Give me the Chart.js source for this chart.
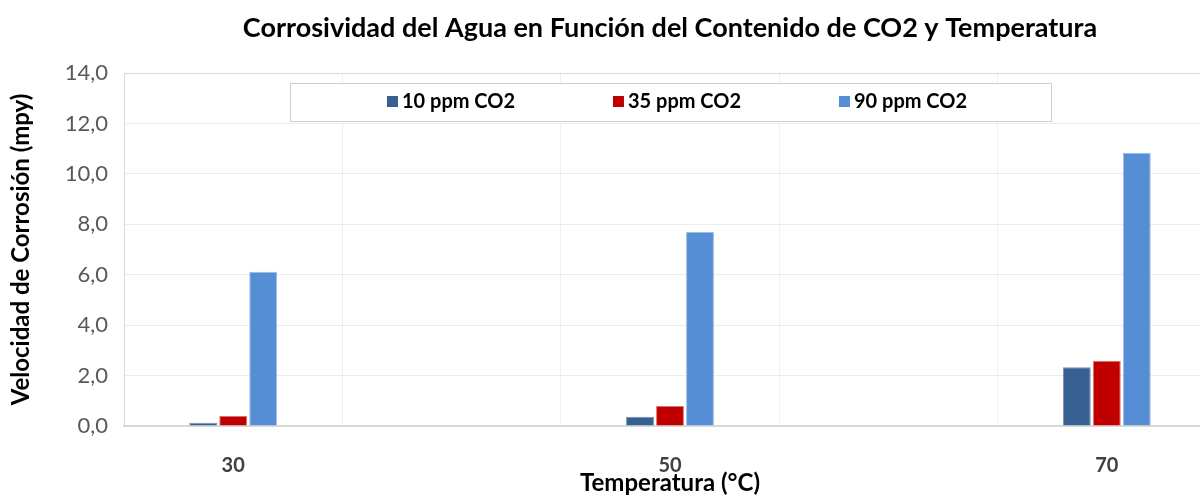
<!DOCTYPE html>
<html>
<head>
<meta charset="utf-8">
<script src="https://cdn.jsdelivr.net/npm/chart.js@4.4.1/dist/chart.umd.min.js"></script>
<style>
  html, body { margin: 0; padding: 0; background: #fff; overflow: hidden; }
  #wrap { width: 1200px; height: 497px; overflow: hidden; }
</style>
</head>
<body>
<div id="wrap"><canvas id="corrChart" width="1220" height="497"></canvas></div>
<script>
// temperatures on the x axis (40 and 60 have no data, labels hidden)
const temperatures = ['30', '40', '50', '60', '70'];
const seriesNames = ['10 ppm CO2', '35 ppm CO2', '90 ppm CO2'];
const ppm10 = [0.13, null, 0.37, null, 2.33];
const ppm35 = [0.40, null, 0.79, null, 2.59];
const ppm90 = [6.12, null, 7.70, null, 10.84];

const chartTitle = 'Corrosividad del Agua en Función del Contenido de CO2 y Temperatura';
const yTitle = 'Velocidad de Corrosión (mpy)';
const xTitle = 'Temperatura (°C)';

const FILL   = ['#366092', '#C00000', '#558ED5'];
const BORDER = ['#7590b5', '#e07070', '#9dbde6'];
const FONT = 'Lato';

// title, legend box and plot-area frame, Excel style
const excelFrame = {
  id: 'excelFrame',
  afterDraw(chart) {
    const { ctx, chartArea: a } = chart;
    ctx.save();

    ctx.strokeStyle = '#d9d9d9';
    ctx.lineWidth = 1;
    ctx.beginPath();
    ctx.moveTo(a.left + 0.5, a.bottom);
    ctx.lineTo(a.left + 0.5, a.top + 0.5);
    ctx.lineTo(a.right, a.top + 0.5);
    ctx.stroke();

    const cx = (a.left + a.right) / 2;
    ctx.fillStyle = '#000';
    ctx.font = `bold 27px ${FONT}`;
    ctx.textAlign = 'center';
    ctx.textBaseline = 'middle';
    ctx.fillText(chartTitle, cx, 28);

    // legend
    const bw = 761, bh = 38, bx = Math.round(cx - bw / 2), by = 83;
    ctx.fillStyle = '#fff';
    ctx.fillRect(bx, by, bw, bh);
    ctx.strokeStyle = '#d0d0d0';
    ctx.strokeRect(bx + 0.5, by + 0.5, bw, bh);

    ctx.font = `bold 20px ${FONT}`;
    ctx.textAlign = 'left';
    chart.data.datasets.forEach((ds, i) => {
      const tw = ctx.measureText(ds.label).width;
      const itemW = 11 + 4 + tw;
      const center = cx + 7 + (i - 1) * 226;
      const x0 = center - itemW / 2;
      const ym = by + bh / 2;
      ctx.fillStyle = ds.backgroundColor;
      ctx.fillRect(x0, ym - 6, 11, 11);
      ctx.fillStyle = '#000';
      ctx.fillText(ds.label, x0 + 15, ym);
    });
    ctx.restore();
  }
};

const seriesData = [ppm10, ppm35, ppm90];

new Chart(document.getElementById('corrChart'), {
  type: 'bar',
  data: {
    labels: temperatures,
    datasets: seriesNames.map((name, i) => ({
      label: name,
      data: seriesData[i],
      backgroundColor: FILL[i],
      borderColor: BORDER[i],
      borderWidth: 1,
      categoryPercentage: 0.412,
      barPercentage: 0.93
    }))
  },
  options: {
    responsive: false,
    animation: false,
    layout: { padding: { top: 73, right: 4, left: 0, bottom: 0 } },
    plugins: {
      legend: { display: false },
      title: { display: false },
      tooltip: { enabled: false }
    },
    scales: {
      x: {
        grid: { color: '#f0f0f0', drawTicks: false },
        border: { color: '#d9d9d9', width: 2 },
        ticks: {
          autoSkip: false,
          maxRotation: 0,
          padding: 28,
          color: '#404040',
          font: { family: FONT, size: 20, weight: 'bold' },
          callback(value, index) {
            return index % 2 === 0 ? this.getLabelForValue(value) : '';
          }
        },
        title: {
          display: true,
          text: xTitle,
          color: '#000',
          font: { family: FONT, size: 24, weight: 'bold' },
          padding: { top: 0, bottom: -1 }
        },
        afterFit(scale) { scale.height = 71; }
      },
      y: {
        min: 0,
        max: 14,
        grid: { color: '#ececec', drawTicks: false },
        border: { display: false },
        ticks: {
          stepSize: 2,
          padding: 16,
          color: '#595959',
          font: { family: FONT, size: 22 },
          callback: v => v.toFixed(1).replace('.', ',')
        },
        title: {
          display: true,
          text: yTitle,
          color: '#000',
          font: { family: FONT, size: 24, weight: 'bold' },
          padding: { top: 7, bottom: 0 }
        },
        afterFit(scale) { scale.width = 124; }
      }
    }
  },
  plugins: [excelFrame]
});
</script>
</body>
</html>
